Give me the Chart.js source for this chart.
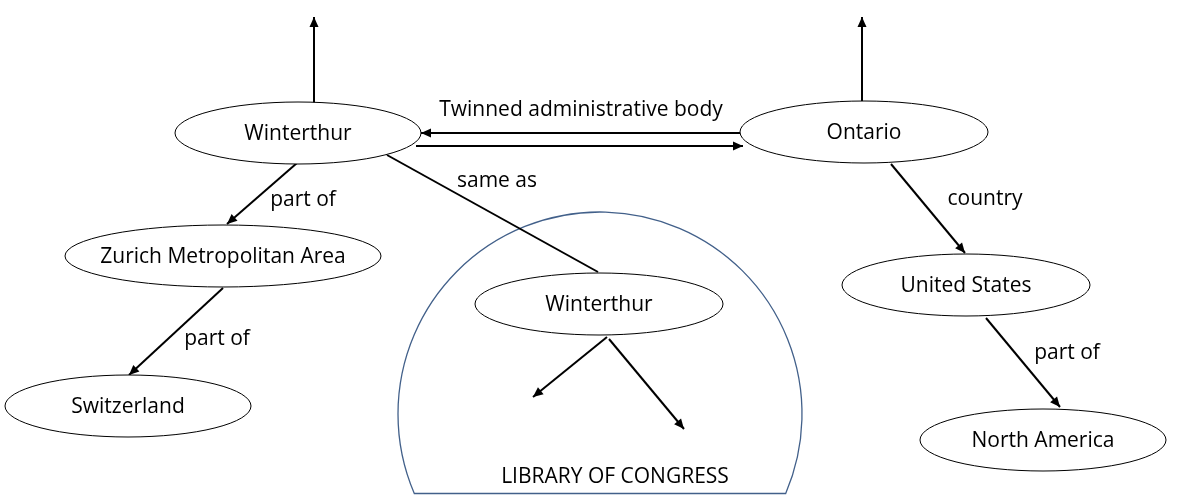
<!DOCTYPE html>
<html>
<head>
<meta charset="utf-8">
<script src="https://cdn.jsdelivr.net/npm/chart.js@4/dist/chart.umd.min.js"></script>
<style>
html, body { margin: 0; padding: 0; background: #fff; }
#wrap { width: 1189px; height: 495px; position: relative; }
</style>
</head>
<body>
<div id="wrap"><canvas id="diagram"></canvas></div>
<script>
// graph nodes (centre in diagram units, half width of the ellipse)
const nodeLabels = ['Winterthur', 'Ontario', 'Zurich Metropolitan Area', 'Switzerland', 'Winterthur', 'United States', 'North America'];
const nodeX = [298, 864, 223, 128, 599, 966, 1043];
const nodeY = [133, 132, 256, 406, 304, 285, 440];
const nodeRx = [123, 124, 158, 123, 124, 124, 123];
const nodeRy = 31;

// graph edges
const edgeX1 = [314, 862, 740, 416, 297, 223, 387, 607, 609, 891, 986];
const edgeY1 = [103, 101, 133, 146, 163, 288, 155, 337, 339, 164, 318];
const edgeX2 = [314, 862, 421, 743, 227, 129, 598, 533, 684, 965, 1060];
const edgeY2 = [17, 17, 133, 146, 224, 375, 272, 397, 429, 253, 407];
const edgeArrow = [true, true, true, true, true, true, false, true, true, true, true];

// edge labels
const edgeLabels = ['Twinned administrative body', 'part of', 'part of', 'same as', 'country', 'part of'];
const edgeLabelX = [581, 303, 217, 497, 985, 1067];
const edgeLabelY = [109, 199, 338, 180, 198, 352];

// Library of Congress boundary
const groupLabel = 'LIBRARY OF CONGRESS';
const groupX = 600, groupY = 414, groupRadius = 202, groupCut = 493.5;
const groupLabelX = 615, groupLabelY = 476;

const FONT = '21px "Open Sans"';
const TEXT_SHIFT = 1.5; // Open Sans sits a little high on a middle baseline

const diagramPlugin = {
    id: 'diagram',
    beforeDatasetsDraw(chart) {
        const { ctx, scales: { x, y } } = chart;
        const cx = x.getPixelForValue(groupX);
        const cy = y.getPixelForValue(groupY);
        const r = x.getPixelForValue(groupX + groupRadius) - cx;
        const cut = y.getPixelForValue(groupCut);
        const a = Math.asin((cut - cy) / r);
        ctx.save();
        ctx.beginPath();
        ctx.arc(cx, cy, r, a, Math.PI - a, true);
        ctx.closePath();
        ctx.strokeStyle = '#42608a';
        ctx.lineWidth = 1.3;
        ctx.stroke();
        ctx.fillStyle = '#000';
        ctx.font = FONT;
        ctx.textAlign = 'center';
        ctx.textBaseline = 'middle';
        ctx.fillText(groupLabel, x.getPixelForValue(groupLabelX), y.getPixelForValue(groupLabelY) + TEXT_SHIFT);
        ctx.restore();
    },
    afterDatasetsDraw(chart) {
        const { ctx, scales: { x, y } } = chart;
        ctx.save();

        // arrowheads at the end of each edge
        chart.data.datasets.forEach((ds, i) => {
            if (!ds.arrow) return;
            const pts = chart.getDatasetMeta(i).data;
            const p0 = pts[0], p1 = pts[1];
            const ang = Math.atan2(p1.y - p0.y, p1.x - p0.x);
            const len = 10, half = 4.5;
            ctx.beginPath();
            ctx.moveTo(p1.x, p1.y);
            ctx.lineTo(p1.x - len * Math.cos(ang) + half * Math.sin(ang), p1.y - len * Math.sin(ang) - half * Math.cos(ang));
            ctx.lineTo(p1.x - len * Math.cos(ang) - half * Math.sin(ang), p1.y - len * Math.sin(ang) + half * Math.cos(ang));
            ctx.closePath();
            ctx.fillStyle = '#000';
            ctx.fill();
        });

        // node ellipses
        const nodes = chart.getDatasetMeta(0).data;
        nodes.forEach((pt, i) => {
            const rx = x.getPixelForValue(nodeX[i] + nodeRx[i]) - pt.x;
            const ry = y.getPixelForValue(nodeY[i] + nodeRy) - pt.y;
            ctx.beginPath();
            ctx.ellipse(pt.x, pt.y, rx, ry, 0, 0, Math.PI * 2);
            ctx.fillStyle = '#fff';
            ctx.fill();
            ctx.strokeStyle = '#000';
            ctx.lineWidth = 1;
            ctx.stroke();
            ctx.fillStyle = '#000';
            ctx.font = FONT;
            ctx.textAlign = 'center';
            ctx.textBaseline = 'middle';
            ctx.fillText(nodeLabels[i], pt.x, pt.y + TEXT_SHIFT);
        });

        // edge labels
        ctx.fillStyle = '#000';
        ctx.font = FONT;
        ctx.textAlign = 'center';
        ctx.textBaseline = 'middle';
        edgeLabels.forEach((t, i) => {
            ctx.fillText(t, x.getPixelForValue(edgeLabelX[i]), y.getPixelForValue(edgeLabelY[i]) + TEXT_SHIFT);
        });
        ctx.restore();
    }
};

const datasets = [{
    label: 'nodes',
    data: nodeX.map((v, i) => ({ x: v, y: nodeY[i] })),
    pointRadius: 0,
    showLine: false
}];
edgeX1.forEach((v, i) => {
    datasets.push({
        label: 'edge ' + i,
        data: [{ x: v, y: edgeY1[i] }, { x: edgeX2[i], y: edgeY2[i] }],
        showLine: true,
        borderColor: '#000',
        borderWidth: 2,
        pointRadius: 0,
        fill: false,
        arrow: edgeArrow[i]
    });
});

const ctx = document.getElementById('diagram').getContext('2d');
new Chart(ctx, {
    type: 'scatter',
    data: { datasets: datasets },
    options: {
        responsive: true,
        maintainAspectRatio: false,
        animation: false,
        layout: { padding: 0 },
        scales: {
            x: { type: 'linear', min: 0, max: 1189, display: false },
            y: { type: 'linear', min: 0, max: 495, reverse: true, display: false }
        },
        plugins: {
            legend: { display: false },
            tooltip: { enabled: false }
        }
    },
    plugins: [diagramPlugin]
});
</script>
</body>
</html>
